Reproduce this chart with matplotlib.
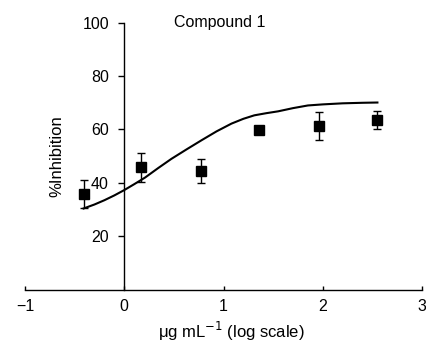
import matplotlib
matplotlib.use("Agg")
import matplotlib.pyplot as plt

plt.rcParams['font.family'] = ['Liberation Sans', 'DejaVu Sans']

# measured points (log concentration, % inhibition, SEM)
log_conc = [-0.41, 0.17, 0.77, 1.36, 1.96, 2.55]
inhibition = [35.8, 45.8, 44.5, 59.8, 61.2, 63.5]
sem = [5.3, 5.4, 4.5, 1.0, 5.2, 3.4]

# fitted curve
curve_x = [-0.41, -0.3, -0.2, -0.1, 0.0, 0.1, 0.21, 0.34, 0.475, 0.63, 0.78, 0.93,
           1.08, 1.2, 1.31, 1.43, 1.55, 1.7, 1.85, 2.0, 2.2, 2.4, 2.55]
curve_y = [30.4, 31.9, 33.5, 35.3, 37.3, 39.5, 42.0, 45.5, 49.0, 52.6, 56.0, 59.3,
           62.2, 64.0, 65.3, 66.1, 66.8, 68.0, 69.0, 69.4, 69.8, 70.0, 70.1]

fig = plt.figure(figsize=(4.27, 3.44), dpi=100)
ax = fig.add_axes([0.0585, 0.158, 0.930, 0.776])

ax.plot(curve_x, curve_y, color='black', lw=1.5)
ax.errorbar(log_conc, inhibition, yerr=sem, fmt='s', color='black', ms=6.5,
            capsize=3, elinewidth=1.0, capthick=1.0)

ax.set_xlim(-1, 3)
ax.set_ylim(0, 100)
ax.spines['left'].set_position(('data', 0))
ax.spines['right'].set_visible(False)
ax.spines['top'].set_visible(False)
ax.spines['left'].set_linewidth(1.0)
ax.spines['bottom'].set_linewidth(1.0)

ax.set_xticks([-1, 0, 1, 2, 3])
ax.set_xticklabels(['\u22121', '0', '1', '2', '3'])
ax.set_yticks([20, 40, 60, 80, 100])
ax.tick_params(axis='y', direction='out', length=4, width=1.0, pad=7, labelsize=11.5)
ax.tick_params(axis='x', direction='in', length=3, width=1.0, pad=7, labelsize=11.5)

ax.set_ylabel('%Inhibition', fontsize=12)
ax.yaxis.set_label_coords(0.098, 0.5)
ax.set_xlabel('\u03bcg mL$^{-1}$ (log scale)', fontsize=12)
ax.xaxis.set_label_coords(0.52, -0.115)

ax.text(0.49, 1.0, 'Compound 1', transform=ax.transAxes, ha='center', va='center', fontsize=11.5)

fig.savefig('out.png', dpi=100)
